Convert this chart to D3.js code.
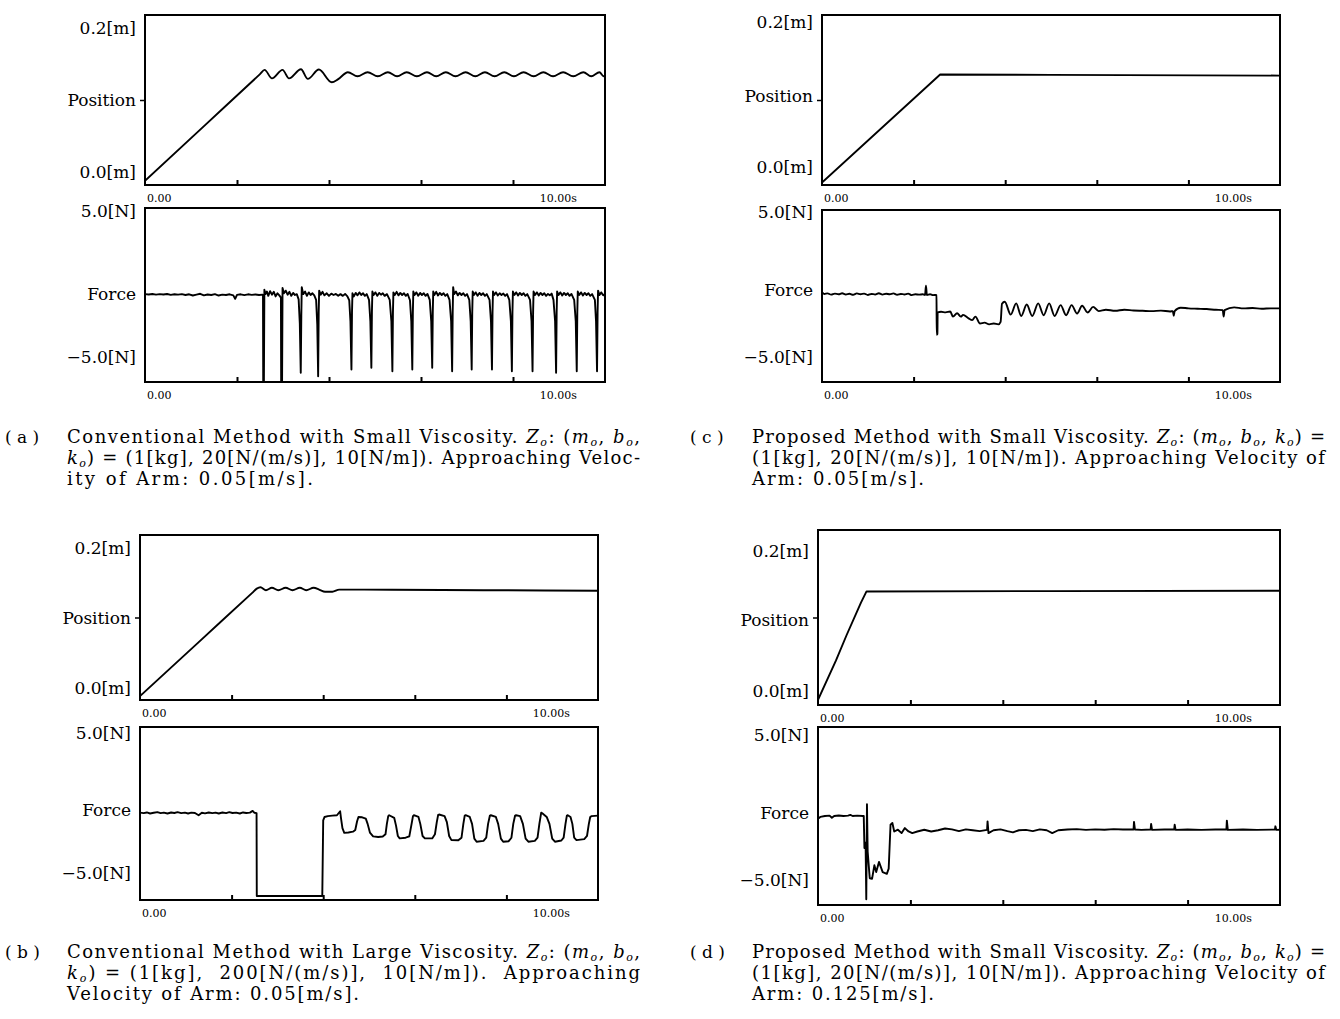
<!DOCTYPE html>
<html><head><meta charset="utf-8">
<script src="https://cdn.jsdelivr.net/npm/d3@7"></script>
<style>body{margin:0;background:#fff}svg{display:block}</style>
</head><body>
<svg id="chart" width="1340" height="1019"></svg>
<script>
// ---------------- DATA ----------------
const timeDomain = [0, 10];
const xTicks = [2, 4, 6, 8];
const xLabels = ["0.00", "10.00s"];
const posDomain = [0, 0.2];
const forceDomain = [-5, 5];
const posLabels = ["0.2[m]", "Position", "0.0[m]"];
const forceLabels = ["5.0[N]", "Force", "\u22125.0[N]"];

// (a) Conventional, small viscosity
const aPos = [[0,0.005],[1.3,0.0702],[2.5,0.1304],[2.6,0.1354],[2.76,0.1255],[2.99,0.1354],[3.13,0.1255],[3.39,0.1362],[3.54,0.1248],[3.78,0.1358],[4.06,0.1208],[4.2,0.1245],[4.41,0.1327],[4.62,0.1279],[4.84,0.1327],[5.06,0.1279],[5.28,0.1327],[5.48,0.1279],[5.69,0.1327],[5.91,0.1279],[6.13,0.1327],[6.33,0.1279],[6.54,0.1327],[6.75,0.1279],[6.97,0.1327],[7.18,0.1279],[7.39,0.1327],[7.6,0.1279],[7.81,0.1327],[8.02,0.1279],[8.23,0.1327],[8.45,0.1279],[8.66,0.1327],[8.87,0.1279],[9.09,0.1327],[9.31,0.1279],[9.53,0.1327],[9.7,0.1279],[9.88,0.1327],[9.97,0.1279],[10,0.1279]];
const aForce = [[0,0.05],[0.08,0.03],[0.16,0.06],[0.24,0.02],[0.32,0.05],[0.4,0.03],[0.48,0.06],[0.56,0.01],[0.64,0.04],[0.72,0.02],[0.8,0.05],[0.88,0.0],[0.96,0.04],[1.04,-0.03],[1.12,0.02],[1.2,0.07],[1.28,-0.02],[1.36,0.03],[1.44,0.0],[1.52,0.05],[1.6,-0.03],[1.68,0.02],[1.76,0.0],[1.84,0.04],[1.92,-0.02],[1.96,-0.22],[2.0,0.01],[2.08,0.04],[2.16,-0.01],[2.24,0.04],[2.32,0.01],[2.4,0.03],[2.48,0.0],[2.56,0.02],
[2.565,0.0],[2.57,-5.0],[2.585,-5.0],[2.595,0.3],
[2.62,0.05],[2.65,0.2],[2.68,-0.05],[2.72,0.22],[2.76,0.02],[2.8,0.18],[2.84,-0.08],[2.88,0.1],[2.92,-0.02],[2.955,-0.15],
[2.96,-5.0],[2.98,-5.0],[2.99,0.4],
[3.02,0.1],[3.06,0.25],[3.1,0.02],[3.14,0.18],[3.18,-0.05],[3.22,0.12],[3.26,0.0],[3.3,0.05],[3.34,-0.25],
[3.365,-1.6],[3.386,-4.47],[3.398,-1.2],[3.408,0.45],
[3.44,0.05],[3.48,0.2],[3.52,-0.05],[3.56,0.15],[3.6,0.0],[3.64,0.1],[3.68,-0.02],[3.72,-0.28],
[3.745,-1.7],[3.764,-4.67],[3.776,-1.0],[3.786,0.25],
[3.82,0.02],[3.86,0.18],[3.9,-0.02],[3.95,0.1],[4.0,-0.05],[4.05,0.08],[4.1,0.0],[4.15,0.06],[4.2,-0.04],[4.25,0.05],[4.3,-0.05],[4.35,0.06],[4.4,-0.08],[4.44,-0.3],
[4.466,-1.5],[4.488,-4.28],[4.5,-1.0],[4.51,0.1],
[4.54,-0.08],[4.58,0.12],[4.62,-0.02],[4.66,0.15],[4.7,0.0],[4.74,0.1],[4.78,-0.05],[4.82,0.05],[4.87,-0.28],
[4.899,-1.5],[4.921,-4.18],[4.933,-1.0],[4.943,0.2],
[4.97,0.0],[5.01,0.15],[5.05,-0.05],[5.09,0.12],[5.13,0.02],[5.17,0.1],[5.21,-0.05],[5.26,0.05],[5.32,-0.28],
[5.356,-1.5],[5.378,-4.38],[5.39,-1.0],[5.4,0.15],
[5.43,0.0],[5.47,0.18],[5.51,-0.02],[5.55,0.12],[5.59,0.0],[5.63,0.1],[5.67,-0.05],[5.71,0.06],[5.76,-0.3],
[5.789,-1.5],[5.811,-4.28],[5.823,-1.0],[5.833,0.2],
[5.86,0.0],[5.9,0.15],[5.94,-0.04],[5.98,0.12],[6.02,0.0],[6.06,0.1],[6.1,-0.05],[6.14,0.06],[6.19,-0.28],
[6.222,-1.5],[6.244,-4.18],[6.256,-1.0],[6.266,0.2],
[6.29,0.0],[6.33,0.18],[6.37,-0.03],[6.41,0.12],[6.45,0.0],[6.49,0.1],[6.53,-0.05],[6.57,0.05],[6.62,-0.28],
[6.655,-1.5],[6.677,-4.38],[6.689,-1.0],[6.699,0.45],
[6.72,0.05],[6.76,0.2],[6.8,-0.02],[6.84,0.12],[6.88,0.0],[6.92,0.1],[6.96,-0.05],[7.0,0.05],[7.05,-0.28],
[7.08,-1.5],[7.102,-4.28],[7.114,-1.0],[7.124,0.2],
[7.15,0.0],[7.19,0.15],[7.23,-0.04],[7.27,0.12],[7.31,0.0],[7.35,0.1],[7.39,-0.05],[7.43,0.05],[7.49,-0.28],
[7.521,-1.5],[7.543,-4.28],[7.555,-1.0],[7.565,0.2],
[7.59,0.0],[7.63,0.15],[7.67,-0.03],[7.71,0.1],[7.75,0.0],[7.79,0.08],[7.83,-0.05],[7.87,0.05],[7.92,-0.28],
[7.954,-1.5],[7.976,-4.38],[7.988,-1.0],[7.998,0.2],
[8.03,0.0],[8.07,0.15],[8.11,-0.03],[8.15,0.12],[8.19,0.0],[8.23,0.1],[8.27,-0.05],[8.31,0.05],[8.37,-0.28],
[8.403,-1.5],[8.425,-4.38],[8.437,-1.0],[8.447,0.2],
[8.48,0.0],[8.52,0.15],[8.56,-0.03],[8.6,0.12],[8.64,0.0],[8.68,0.1],[8.72,-0.05],[8.76,0.06],[8.8,-0.02],[8.84,0.08],[8.88,-0.28],
[8.915,-1.5],[8.937,-4.47],[8.949,-1.0],[8.959,0.2],
[8.99,0.0],[9.03,0.15],[9.07,-0.03],[9.11,0.12],[9.15,0.0],[9.19,0.1],[9.23,-0.05],[9.27,0.06],[9.33,-0.28],
[9.364,-1.5],[9.386,-4.38],[9.398,-1.0],[9.408,0.2],
[9.44,0.0],[9.48,0.15],[9.52,-0.03],[9.56,0.12],[9.6,0.0],[9.64,0.1],[9.68,-0.05],[9.72,0.05],[9.78,-0.28],
[9.805,-1.5],[9.827,-4.38],[9.839,-1.0],[9.849,0.25],
[9.88,0.0],[9.92,0.15],[9.96,-0.02],[10,0.05]];

// (b) Conventional, large viscosity
const bPos = [[0,0.0047],[1.3,0.0711],[2.45,0.1299],[2.55,0.135],[2.63,0.1367],[2.75,0.1331],[2.88,0.136],[3.02,0.1331],[3.18,0.136],[3.33,0.1331],[3.49,0.136],[3.63,0.1331],[3.79,0.136],[3.92,0.1336],[4.04,0.1313],[4.2,0.1312],[4.35,0.1338],[5.5,0.1337],[7.5,0.1331],[10,0.1325]];
const bForce = [[0,0.05],[0.08,0.02],[0.15,0.06],[0.22,0.0],[0.3,0.04],[0.38,0.08],[0.45,0.02],[0.52,0.05],[0.6,0.0],[0.68,0.06],[0.75,0.03],[0.82,0.08],[0.9,0.02],[0.98,0.05],[1.05,0.0],[1.12,0.05],[1.2,0.03],[1.28,-0.1],[1.35,0.04],[1.42,0.01],[1.5,0.06],[1.58,0.02],[1.65,0.05],[1.72,0.0],[1.8,0.06],[1.88,0.02],[1.95,0.08],[2.02,0.03],[2.1,0.05],[2.18,0.0],[2.25,0.06],[2.32,0.03],[2.4,0.05],[2.46,0.15],[2.5,0.04],[2.545,0.02],
[2.55,-4.77],[3.98,-4.77],[4.0,-0.4],[4.03,-0.2],[4.1,-0.15],[4.2,-0.12],[4.3,-0.1],[4.37,0.13],[4.39,-0.3],[4.42,-0.85],[4.46,-1.12],[4.55,-1.1],[4.65,-1.05],[4.7,-0.95],[4.74,-0.45],[4.77,-0.2],[4.85,-0.22],[4.93,-0.3],[4.97,-0.6],[5.02,-1.1],[5.09,-1.32],[5.2,-1.36],[5.3,-1.33],[5.36,-1.2],[5.39,-0.6],[5.42,-0.15],[5.44,-0.1],[5.55,-0.25],[5.59,-0.7],[5.63,-1.3],[5.67,-1.44],[5.8,-1.4],[5.88,-1.32],[5.93,-0.6],[5.96,-0.15],[5.98,-0.1],[6.08,-0.2],[6.12,-0.6],[6.17,-1.3],[6.22,-1.44],[6.38,-1.44],[6.44,-1.2],[6.48,-0.5],[6.51,-0.08],[6.53,-0.06],[6.65,-0.15],[6.7,-0.5],[6.75,-1.3],[6.8,-1.54],[6.95,-1.55],[7.02,-1.4],[7.06,-0.6],[7.09,-0.12],[7.11,-0.1],[7.2,-0.2],[7.25,-0.6],[7.3,-1.45],[7.35,-1.63],[7.5,-1.58],[7.56,-1.4],[7.6,-0.6],[7.64,-0.12],[7.66,-0.1],[7.77,-0.2],[7.82,-0.6],[7.88,-1.45],[7.93,-1.63],[8.05,-1.6],[8.11,-1.4],[8.15,-0.6],[8.19,-0.12],[8.21,-0.1],[8.3,-0.15],[8.36,-0.6],[8.42,-1.45],[8.48,-1.63],[8.62,-1.58],[8.68,-1.4],[8.72,-0.6],[8.76,0.05],[8.79,0.0],[8.88,-0.2],[8.94,-0.6],[9.0,-1.45],[9.06,-1.63],[9.2,-1.56],[9.25,-1.4],[9.29,-0.6],[9.32,-0.12],[9.34,-0.1],[9.4,-0.2],[9.44,-0.6],[9.48,-1.4],[9.53,-1.54],[9.7,-1.48],[9.76,-1.3],[9.8,-0.6],[9.83,-0.2],[9.86,-0.15],[10,-0.12]];

// (c) Proposed, small viscosity, 0.05 m/s
const cPos = [[0,0.003],[2.58,0.130],[5,0.1296],[10,0.1287]];
const cForce = [[0,0.2],[0.05,0.12],[0.12,0.15],[0.2,0.08],[0.28,0.14],[0.36,0.1],[0.44,0.16],[0.52,0.09],[0.6,0.13],[0.68,0.07],[0.76,0.15],[0.84,0.1],[0.92,0.14],[1.0,0.06],[1.08,0.12],[1.16,0.09],[1.24,0.16],[1.32,0.08],[1.4,0.13],[1.48,0.1],[1.56,0.15],[1.64,0.07],[1.72,0.12],[1.8,0.09],[1.88,0.14],[1.96,0.05],[2.04,0.1],[2.12,0.08],[2.2,0.1],[2.25,0.06],[2.27,0.6],[2.29,0.06],[2.36,0.1],[2.42,0.05],[2.49,0.06],
[2.5,0.05],[2.505,-2.25],[2.52,-2.2],[2.525,-0.95],[2.6,-0.92],[2.7,-0.95],[2.8,-0.9],[2.86,-1.2],[2.95,-1.0],[3.03,-1.2],[3.08,-1.1],[3.2,-1.3],[3.28,-1.4],[3.35,-1.2],[3.45,-1.6],[3.55,-1.55],[3.65,-1.65],[3.75,-1.6],[3.85,-1.65],[3.9,-1.5],[3.93,-0.45],
[3.99,-0.33],[4.12,-1.08],[4.24,-0.43],[4.35,-1.16],[4.47,-0.49],[4.59,-1.16],[4.72,-0.43],[4.84,-1.12],[4.96,-0.43],[5.08,-1.16],[5.21,-0.53],[5.33,-1.12],[5.45,-0.53],[5.57,-1.02],[5.68,-0.57],[5.8,-0.96],[5.92,-0.63],[6.04,-0.88],
[6.2,-0.8],[6.4,-0.86],[6.6,-0.8],[6.8,-0.84],[7.0,-0.86],[7.2,-0.88],[7.4,-0.85],[7.6,-0.9],[7.66,-0.88],[7.68,-1.15],[7.7,-0.88],[7.83,-0.68],[8.0,-0.72],[8.2,-0.74],[8.4,-0.76],[8.6,-0.8],[8.75,-0.82],[8.77,-1.2],[8.79,-0.82],[9.0,-0.66],[9.2,-0.72],[9.4,-0.7],[9.6,-0.74],[9.8,-0.72],[10,-0.72]];

// (d) Proposed, small viscosity, 0.125 m/s
const dPos = [[0,0.006],[0.39,0.051],[0.62,0.080],[0.93,0.117],[1.05,0.1298],[5,0.1302],[10,0.1306]];
const dForce = [[0,-0.15],[0.05,-0.05],[0.15,0.0],[0.25,0.02],[0.3,-0.1],[0.35,0.0],[0.45,0.03],[0.55,0.0],[0.65,0.02],[0.7,0.06],[0.75,0.0],[0.85,0.02],[0.97,0.0],
[0.99,0.0],[1.005,-1.8],[1.03,-1.5],[1.045,-4.68],[1.06,0.66],[1.075,-2.0],[1.12,-3.5],[1.17,-3.53],[1.22,-2.77],[1.26,-3.15],[1.32,-2.58],[1.4,-3.15],[1.49,-3.25],[1.53,-2.96],[1.57,-0.49],[1.61,-0.39],[1.65,-0.87],[1.73,-0.77],[1.81,-0.96],[1.88,-0.68],[1.96,-0.87],[2.04,-0.96],
[2.15,-0.87],[2.3,-0.77],[2.45,-0.87],[2.6,-0.8],[2.75,-0.7],[2.9,-0.75],[3.05,-0.85],[3.2,-0.75],[3.35,-0.8],[3.5,-0.85],[3.66,-0.78],[3.67,-0.3],[3.69,-0.96],[3.8,-0.8],[3.95,-0.75],[4.1,-0.85],[4.22,-0.92],[4.35,-0.8],[4.5,-0.78],[4.65,-0.85],[4.8,-0.75],[4.95,-0.8],[5.07,-0.96],[5.2,-0.8],[5.4,-0.76],[5.6,-0.74],[5.8,-0.78],[6.0,-0.75],[6.2,-0.77],[6.4,-0.74],[6.6,-0.76],[6.83,-0.76],[6.84,-0.33],[6.86,-0.76],[7.0,-0.78],[7.2,-0.76],[7.21,-0.45],[7.23,-0.78],[7.5,-0.76],[7.71,-0.76],[7.72,-0.49],[7.74,-0.78],[8.0,-0.76],[8.3,-0.78],[8.6,-0.76],[8.84,-0.76],[8.85,-0.26],[8.87,-0.78],[9.2,-0.76],[9.5,-0.78],[9.89,-0.76],[9.9,-0.58],[9.92,-0.78],[10,-0.77]];

// ---------------- LAYOUT ----------------
const panels = [
  {pos:aPos, force:aForce, posCurve:d3.curveMonotoneX, forceCurve:d3.curveLinear,
   posBox:{x:145,y:15,w:460,h:170}, forceBox:{x:145,y:208,w:460,h:174},
   posLab:[13,0,-13], forceLab:[3,-1,-25]},
  {pos:cPos, force:cForce, posCurve:d3.curveLinear, forceCurve:d3.curveMonotoneX,
   posBox:{x:822,y:15,w:458,h:170}, forceBox:{x:822,y:210,w:458,h:172},
   posLab:[7,-4,-18], forceLab:[2,-6,-25]},
  {pos:bPos, force:bForce, posCurve:d3.curveMonotoneX, forceCurve:d3.curveLinear,
   posBox:{x:140,y:535,w:458,h:165}, forceBox:{x:140,y:727,w:458,h:173},
   posLab:[13,0,-12], forceLab:[6,-4,-27]},
  {pos:dPos, force:dForce, posCurve:d3.curveLinear, forceCurve:d3.curveLinear,
   posBox:{x:818,y:530,w:462,h:175}, forceBox:{x:818,y:727,w:462,h:178},
   posLab:[21,2,-14], forceLab:[8,-3,-25]}
];

const captions = [
  {label:"( a )", lx:5, tx:67, y:443, lines:[
    ["Conventional Method with Small Viscosity. {Z}: ({m}, {b},", 573],
    ["{k}) = (1[kg], 20[N/(m/s)], 10[N/m]). Approaching Veloc-", 573],
    ["ity of Arm: 0.05[m/s].", 246]]},
  {label:"( c )", lx:690, tx:752, y:443, lines:[
    ["Proposed Method with Small Viscosity. {Z}: ({m}, {b}, {k}) =", 573],
    ["(1[kg], 20[N/(m/s)], 10[N/m]). Approaching Velocity of", 573],
    ["Arm: 0.05[m/s].", 172]]},
  {label:"( b )", lx:5, tx:67, y:958, lines:[
    ["Conventional Method with Large Viscosity. {Z}: ({m}, {b},", 573],
    ["{k}) = (1[kg],  200[N/(m/s)],  10[N/m]).  Approaching", 573],
    ["Velocity of Arm: 0.05[m/s].", 292]]},
  {label:"( d )", lx:690, tx:752, y:958, lines:[
    ["Proposed Method with Small Viscosity. {Z}: ({m}, {b}, {k}) =", 573],
    ["(1[kg], 20[N/(m/s)], 10[N/m]). Approaching Velocity of", 573],
    ["Arm: 0.125[m/s].", 182]]}
];

// ---------------- DRAW ----------------
const svg = d3.select("#chart");
svg.append("rect").attr("width",1340).attr("height",1019).attr("fill","#fff");
const SERIF = "'DejaVu Serif', 'Liberation Serif', serif";
let clipId = 0;

function drawPlot(box, data, yDomain, labels, labOff, curve, midTick) {
  const x = d3.scaleLinear().domain(timeDomain).range([box.x, box.x + box.w]);
  const y = d3.scaleLinear().domain(yDomain).range([box.y + box.h, box.y]);
  const g = svg.append("g");
  const id = "clip" + (clipId++);
  svg.append("clipPath").attr("id", id).append("rect")
    .attr("x", box.x).attr("y", box.y - 1).attr("width", box.w).attr("height", box.h + 2);

  const ax = d3.axisBottom(x).tickValues(xTicks).tickSize(-5).tickFormat("");
  const axg = g.append("g").attr("transform", `translate(0,${box.y + box.h})`).call(ax);
  axg.select(".domain").remove();
  axg.selectAll("line").attr("stroke", "#000").attr("stroke-width", 2);

  if (midTick) {
    const ay = d3.axisLeft(y).tickValues([(yDomain[0] + yDomain[1]) / 2]).tickSize(5).tickFormat("");
    const ayg = g.append("g").attr("transform", `translate(${box.x},0)`).call(ay);
    ayg.select(".domain").remove();
    ayg.selectAll("line").attr("stroke", "#000").attr("stroke-width", 1.5);
  }

  g.append("path").datum(data)
    .attr("clip-path", `url(#${id})`)
    .attr("fill", "none").attr("stroke", "#000").attr("stroke-width", 1.9)
    .attr("stroke-linejoin", "round")
    .attr("d", d3.line().x(d => x(d[0])).y(d => y(d[1])).curve(curve));

  g.append("rect").attr("x", box.x).attr("y", box.y).attr("width", box.w).attr("height", box.h)
    .attr("fill", "none").attr("stroke", "#000").attr("stroke-width", 2);

  const ys = [box.y + labOff[0], box.y + box.h / 2 + labOff[1], box.y + box.h + labOff[2]];
  g.selectAll("text.yl").data(labels).enter().append("text")
    .attr("class", "yl")
    .attr("x", box.x - 9).attr("y", (d, i) => ys[i] + 6)
    .attr("text-anchor", "end").attr("font-family", SERIF).attr("font-size", 17)
    .attr("fill", "#000").text(d => d);

  g.append("text").attr("x", box.x + 2).attr("y", box.y + box.h + 17)
    .attr("font-family", SERIF).attr("font-size", 11).attr("fill", "#000").text(xLabels[0]);
  g.append("text").attr("x", box.x + box.w - 28).attr("y", box.y + box.h + 17)
    .attr("text-anchor", "end").attr("font-family", SERIF).attr("font-size", 11)
    .attr("fill", "#000").text(xLabels[1]);
}

panels.forEach(p => {
  drawPlot(p.posBox, p.pos, posDomain, posLabels, p.posLab, p.posCurve, true);
  drawPlot(p.forceBox, p.force, forceDomain, forceLabels, p.forceLab, p.forceCurve, false);
});

// captions: {X} -> italic X with italic subscript o
function addLine(textSel, str) {
  const parts = str.split(/\{(\w)\}/);
  let pendingUp = false;
  parts.forEach((part, i) => {
    if (i % 2 === 0) {
      if (part.length) {
        const t = textSel.append("tspan").text(part);
        if (pendingUp) { t.attr("dy", -3); pendingUp = false; }
      }
    } else {
      const t = textSel.append("tspan").attr("font-style", "italic").text(part);
      if (pendingUp) { t.attr("dy", -3); pendingUp = false; }
      textSel.append("tspan").attr("font-style", "italic").attr("font-size", 11).attr("dy", 3).text("o");
      pendingUp = true;
    }
  });
}
captions.forEach(c => {
  svg.append("text").attr("x", c.lx).attr("y", c.y)
    .attr("font-family", SERIF).attr("font-size", 17).attr("fill", "#000")
    .style("white-space", "pre").text(c.label);
  c.lines.forEach((ln, i) => {
    const t = svg.append("text").attr("x", c.tx).attr("y", c.y + i * 20.8)
      .attr("font-family", SERIF).attr("font-size", 18).attr("fill", "#000")
      .style("white-space", "pre")
      .attr("textLength", ln[1]).attr("lengthAdjust", "spacing");
    addLine(t, ln[0]);
  });
});
</script>
</body></html>
